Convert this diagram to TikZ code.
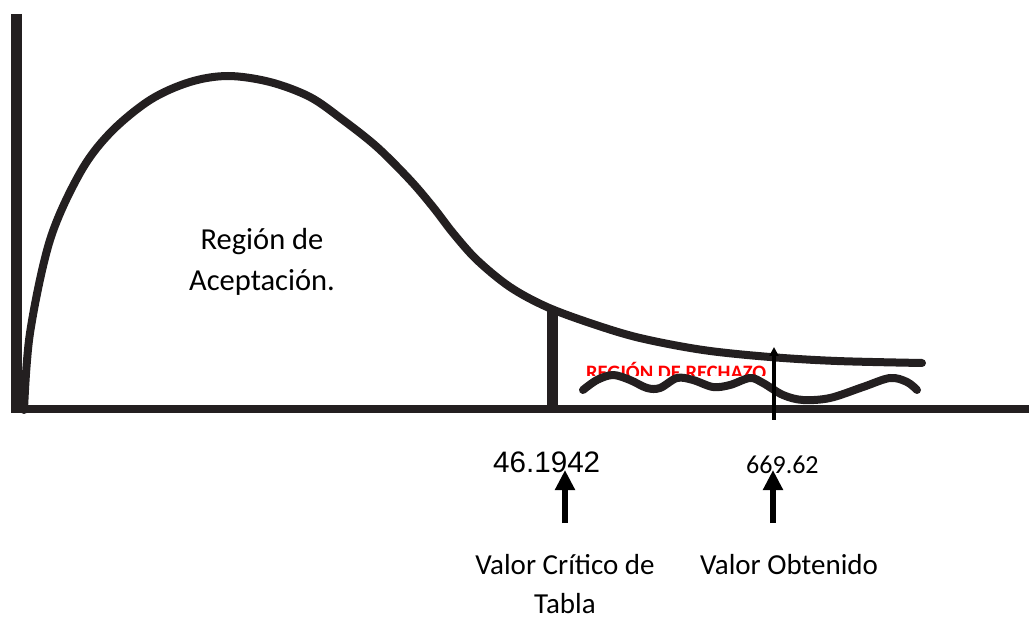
\documentclass[tikz,border=0pt]{standalone}
\usepackage{fontspec}
\setmainfont{Carlito}
\newfontfamily\arialf{Liberation Sans}
\usetikzlibrary{arrows.meta}
\definecolor{ink}{RGB}{35,31,32}
\begin{document}
\begin{tikzpicture}[x=1pt,y=-1pt,
  axisline/.style={draw=ink,line width=#1},
  curveline/.style={draw=ink,line width=8,line cap=round,line join=round},
  label/.style={inner sep=0,font=\fontsize{29}{39}\selectfont,text=black},
  bigarrow/.style={draw=black,line width=6,-{Triangle[length=20,width=19]}},
  smallarrow/.style={draw=black,line width=4.5,-{Triangle[length=9,width=9]}}]
\path[use as bounding box] (0,0) rectangle (1029,620);
% axes
\draw[axisline=11] (16.5,14) -- (16.5,413);
\draw[axisline=8] (11,409) -- (1029,409);
% distribution curve
\draw[curveline] plot[smooth,tension=0.55] coordinates {
  (24,410) (30,333) (50,240) (80,173) (110,133) (150,100) (190,82) (228,76)
  (270,82) (310,97) (343,120) (377,147) (410,180) (433,207) (453,233)
  (477,260) (510,287) (547,307) (593,324) (640,338) (703,350) (770,357)
  (837,361) (922,363)};
% critical line
\draw[axisline=11] (552,309) -- (552,409);
% red text (clipped)
\begin{scope}
\clip (575,355) rectangle (785,376);
\node[inner sep=0,anchor=base west,text=red,font=\fontsize{20.5}{24}\selectfont\bfseries] (rech) at (586,380) {REGIÓN DE RECHAZO};
\end{scope}
% wave
\draw[curveline] plot[smooth,tension=0.55] coordinates {
  (583,390) (597,380) (613,375) (630,380) (647,388) (660,388) (677,378)
  (693,380) (713,387) (730,385) (750,378) (763,383) (783,395) (803,400)
  (830,398) (863,387) (890,378) (907,382) (917,390)};
% obtained value arrow
\coordinate (obtbot) at (774,420);
\coordinate (obttop) at (774,347);
\draw[smallarrow] (obtbot) -- (obttop);
% texts
\node[label,align=center,font=\fontsize{30.5}{41}\selectfont] (acep) at (262,262) {Región de\\Aceptación.};
\node[inner sep=0,anchor=base west,font={\fontsize{29.6}{34}\arialf}] (crit) at (493,472) {46.1942};
\node[inner sep=0,anchor=base west,font=\fontsize{26}{30}\selectfont] (obt) at (746,473) {669.62};
\node[label,align=center,anchor=north] (vct) at (565,554) {Valor Crítico de\\Tabla};
\node[label,anchor=north] (vob) at (789,554) {Valor Obtenido};
% arrows
\coordinate (a1b) at (565,523);
\coordinate (a1t) at (565,470);
\coordinate (a2b) at (773,523);
\coordinate (a2t) at (773,470);
\draw[bigarrow] (a1b) -- (a1t);
\draw[bigarrow] (a2b) -- (a2t);
\end{tikzpicture}
\end{document}
